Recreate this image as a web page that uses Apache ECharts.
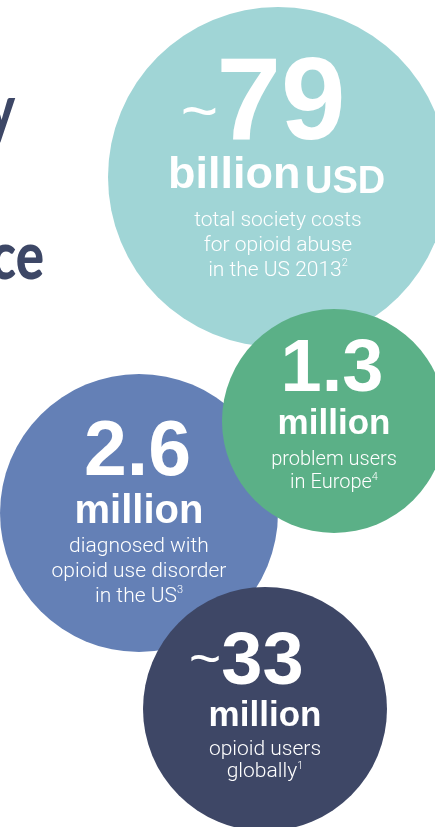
<!DOCTYPE html>
<html>
<head>
<meta charset="utf-8">
<script src="https://cdn.jsdelivr.net/npm/echarts@6/dist/echarts.min.js"></script>
<style>
  html, body { margin: 0; padding: 0; background: #fff; }
  #main { width: 435px; height: 827px; }
</style>
</head>
<body>
<div id="main"></div>
<script>
// bubble data (page px space)
var bubbleX = [278, 139, 334, 265];
var bubbleY = [177, 513, 421, 709];
var bubbleR = [170, 139, 112, 122];
var prefixes = ['~', '', '', '~'];
var figures = ['79', '2.6', '1.3', '33'];
var units = ['billion', 'million', 'million', 'million'];
var unitSuffix = ['USD', '', '', ''];
var captions = [
    ['total society costs', 'for opioid abuse', 'in the US 2013'],
    ['diagnosed with', 'opioid use disorder', 'in the US'],
    ['problem users', 'in Europe'],
    ['opioid users', 'globally']
];
var footnotes = ['2', '3', '4', '1'];
// cut-off headline on the left edge
var headline = ['y', 'ce'];

var colors = ['#a0d5d6', '#6480b6', '#5bb087', '#3e4766'];
var ink = '#3d4766';
var sans = '"Liberation Sans", Arial, sans-serif';
var light = 'Roboto, "Liberation Sans", sans-serif';

// text layout, offsets from bubble centre
var layout = [
    { tilde: [-60, -62, 64], fig: [3, -70, 116], unit: [-110, -1.5, 45, 'left'], suf: [27, 5.5, 38], cap: [31, 21, 25] },
    { fig: [-1.5, -59.5, 77], unit: [0, -1, 40, 'center'], cap: [21.5, 21, 25] },
    { fig: [-2, -50.5, 74], unit: [0, 3.5, 35, 'center'], cap: [27.5, 20, 23] },
    { tilde: [-44, -47, 55], fig: [-2.5, -45.5, 74], unit: [0, 7, 35, 'center'], cap: [30, 21, 22] }
];

var myChart = echarts.init(document.getElementById('main'));

function renderItem(params, api) {
    var i = params.dataIndex;
    var c = api.coord([api.value(0), api.value(1)]);
    var r = api.size([api.value(2), 0])[0];
    var L = layout[i];
    var kids = [{
        type: 'circle',
        shape: { cx: c[0], cy: c[1], r: r },
        style: { fill: colors[i] }
    }];
    if (prefixes[i]) {
        kids.push({
            type: 'text',
            style: {
                x: c[0] + L.tilde[0], y: c[1] + L.tilde[1], text: prefixes[i],
                fontSize: L.tilde[2], fontFamily: sans, fill: '#fff',
                align: 'right', verticalAlign: 'middle'
            }
        });
    }
    kids.push({
        type: 'text',
        style: {
            x: c[0] + L.fig[0], y: c[1] + L.fig[1], text: figures[i],
            fontSize: L.fig[2], fontWeight: 'bold', fontFamily: sans, fill: '#fff',
            align: 'center', verticalAlign: 'middle'
        }
    });
    kids.push({
        type: 'text',
        style: {
            x: c[0] + L.unit[0], y: c[1] + L.unit[1], text: units[i],
            fontSize: L.unit[2], fontWeight: 'bold', fontFamily: sans, fill: '#fff',
            align: L.unit[3], verticalAlign: 'middle'
        }
    });
    if (unitSuffix[i]) {
        kids.push({
            type: 'text',
            style: {
                x: c[0] + L.suf[0], y: c[1] + L.suf[1], text: unitSuffix[i],
                fontSize: L.suf[2], fontWeight: 'bold', fontFamily: sans, fill: '#fff',
                align: 'left', verticalAlign: 'middle'
            }
        });
    }
    var lines = captions[i];
    var txt = lines.map(function (l, k) {
        return '{t|' + l + '}' + (k == lines.length - 1 ? '{s|' + footnotes[i] + '}' : '');
    }).join('\n');
    kids.push({
        type: 'text',
        style: {
            x: c[0], y: c[1] + L.cap[0], text: txt,
            align: 'center', verticalAlign: 'top',
            rich: {
                t: { fontSize: L.cap[1], lineHeight: L.cap[2], fontFamily: light, fontWeight: 300, fill: '#fff' },
                s: { fontSize: 11, lineHeight: L.cap[2] - 6, fontFamily: light, fontWeight: 300, fill: '#fff', verticalAlign: 'top' }
            }
        }
    });
    return { type: 'group', children: kids };
}

myChart.setOption({
    animation: false,
    grid: { left: 0, right: 0, top: 0, bottom: 0 },
    xAxis: { type: 'value', min: 0, max: 435, show: false },
    yAxis: { type: 'value', min: 0, max: 827, inverse: true, show: false },
    graphic: [
        {
            type: 'text', x: 15, y: 111, scaleX: 0.8,
            style: { x: 0, y: 0, text: headline[0], fontSize: 66, fontWeight: 900, fontFamily: 'Lato, sans-serif', fill: ink, align: 'right', verticalAlign: 'middle' }
        },
        {
            type: 'text', x: 44, y: 258, scaleX: 0.8,
            style: { x: 0, y: 0, text: headline[1], fontSize: 66, fontWeight: 900, fontFamily: 'Lato, sans-serif', fill: ink, align: 'right', verticalAlign: 'middle' }
        }
    ],
    series: [{
        type: 'custom',
        renderItem: renderItem,
        data: bubbleX.map(function (x, i) { return [x, bubbleY[i], bubbleR[i]]; })
    }]
});
</script>
</body>
</html>
